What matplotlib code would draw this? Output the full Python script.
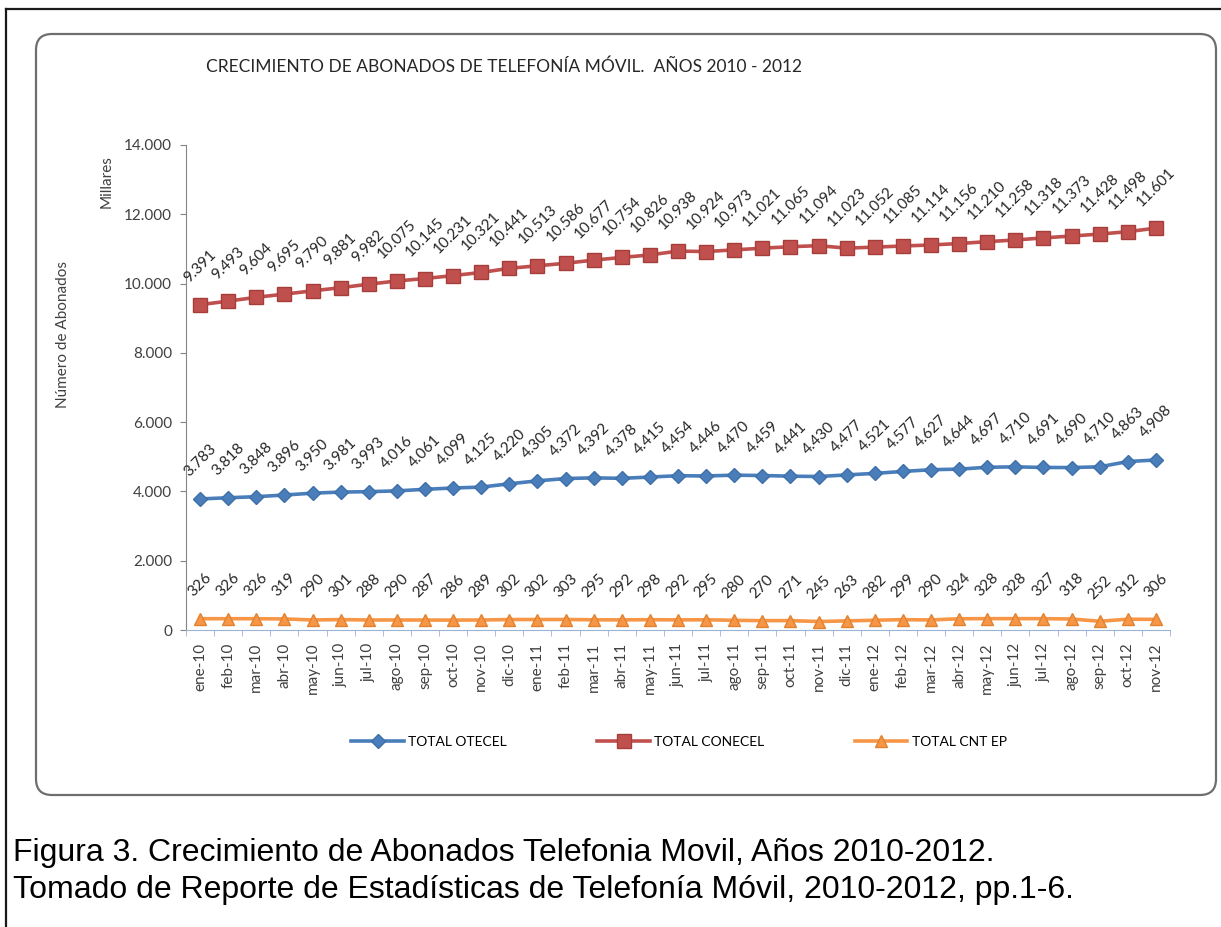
import numpy as np
import matplotlib
matplotlib.use('Agg')
import matplotlib.pyplot as plt
from matplotlib import font_manager
from matplotlib.lines import Line2D
from matplotlib.patches import FancyBboxPatch

# Monthly subscribers (thousands), ene-10 .. nov-12
meses = ['ene', 'feb', 'mar', 'abr', 'may', 'jun', 'jul', 'ago', 'sep', 'oct', 'nov', 'dic']
periodos = [f'{m}-{a}' for a in ('10', '11', '12') for m in meses][:35]

otecel = [3783, 3818, 3848, 3896, 3950, 3981, 3993, 4016, 4061, 4099, 4125, 4220,
          4305, 4372, 4392, 4378, 4415, 4454, 4446, 4470, 4459, 4441, 4430, 4477,
          4521, 4577, 4627, 4644, 4697, 4710, 4691, 4690, 4710, 4863, 4908]
conecel = [9391, 9493, 9604, 9695, 9790, 9881, 9982, 10075, 10145, 10231, 10321, 10441,
           10513, 10586, 10677, 10754, 10826, 10938, 10924, 10973, 11021, 11065, 11094, 11023,
           11052, 11085, 11114, 11156, 11210, 11258, 11318, 11373, 11428, 11498, 11601]
cnt_ep = [326, 326, 326, 319, 290, 301, 288, 290, 287, 286, 289, 302,
          302, 303, 295, 292, 298, 292, 295, 280, 270, 271, 245, 263,
          282, 299, 290, 324, 328, 328, 327, 318, 252, 312, 306]

y_ticks = [0, 2000, 4000, 6000, 8000, 10000, 12000, 14000]

W, H = 1221, 927

# chart text in a Calibri-like face, caption in an Arial-like one
installed = {f.name for f in font_manager.fontManager.ttflist}
chart_font = 'Lato' if 'Lato' in installed else 'DejaVu Sans'
caption_font = 'Liberation Sans' if 'Liberation Sans' in installed else 'DejaVu Sans'
plt.rcParams['font.family'] = [chart_font, 'DejaVu Sans']


def fx(px):
    return px / W


def fy(py):
    return 1 - py / H


def miles(v):
    return f'{v:,.0f}'.replace(',', '.')


fig = plt.figure(figsize=(W / 100, H / 100), dpi=100)
fig.patch.set_facecolor('white')

# page frame (top and left only) and the rounded chart box
fig.add_artist(Line2D([fx(6), 1], [fy(9), fy(9)], color='#1a1a1a', lw=1.6, transform=fig.transFigure))
fig.add_artist(Line2D([fx(6), fx(6)], [fy(9), 0], color='#1a1a1a', lw=1.6, transform=fig.transFigure))
box = FancyBboxPatch((36 / 100, (H - 795) / 100), (1216 - 36) / 100, (795 - 34) / 100,
                     boxstyle='round,pad=0,rounding_size=0.16', transform=fig.dpi_scale_trans,
                     fc='none', ec='#6e6e6e', lw=1.6)
fig.add_artist(box)

# plot area
ax = fig.add_axes([fx(186), fy(630), fx(1170) - fx(186), fy(145) - fy(630)])
x = np.arange(len(periodos))

series = [
    ('TOTAL OTECEL', otecel, '#4A7EBB', '#3F6FA8', 'D', 7.5),
    ('TOTAL CONECEL', conecel, '#C0504D', '#A53E3B', 's', 9.5),
    ('TOTAL CNT EP', cnt_ep, '#F79646', '#E0822F', '^', 9),
]
handles = []
for name, vals, col, edge, mk, ms in series:
    h, = ax.plot(x, vals, color=col, lw=2.6, marker=mk, markersize=ms,
                 markerfacecolor=col, markeredgecolor=edge, label=name)
    handles.append(h)
    # value labels sit above each point, rotated like the workbook's
    for i, v in enumerate(vals):
        ax.annotate(miles(v), (i, v), xytext=(0, 14), textcoords='offset points',
                    rotation=45, ha='center', va='bottom', fontsize=11, color='#262626')

ax.set_xlim(-0.5, len(periodos) - 0.5)
ax.set_ylim(0, 14000)
ax.set_yticks(y_ticks)
ax.set_yticklabels([miles(v) for v in y_ticks])
ax.set_xticks(x)
ax.set_xticklabels(periodos, rotation=90)
ax.set_xticks(np.arange(-0.5, len(periodos), 1), minor=True)
ax.tick_params(axis='x', which='major', length=0, pad=9, labelsize=11, colors='#404040')
ax.tick_params(axis='x', which='minor', length=4, color='#9BB3D4')
ax.tick_params(axis='y', length=4, color='#868686', labelsize=11, labelcolor='#404040', pad=6)

for side in ('top', 'right'):
    ax.spines[side].set_visible(False)
ax.spines['left'].set_color('#868686')
ax.spines['bottom'].set_color('#9BB3D4')

fig.text(fx(63), fy(335), 'Número de Abonados', rotation=90, ha='center', va='center',
         fontsize=11, color='#404040')
fig.text(fx(107), fy(182), 'Millares', rotation=90, ha='center', va='center',
         fontsize=11, color='#404040')
fig.text(fx(206), fy(67), 'CRECIMIENTO DE ABONADOS DE TELEFONÍA MÓVIL.  AÑOS 2010 - 2012',
         ha='left', va='center', fontsize=12.5, color='#262626')

fig.legend(handles=handles, loc='center', bbox_to_anchor=(fx(679), fy(742)), ncol=3,
           frameon=False, fontsize=10, handlelength=3.8, columnspacing=6.5, handletextpad=0.3)

# caption below the chart box
fig.text(fx(13), fy(853), 'Figura 3. Crecimiento de Abonados Telefonia Movil, Años 2010-2012.',
         ha='left', va='center', fontsize=23, family=caption_font, color='black')
fig.text(fx(13), fy(890), 'Tomado de Reporte de Estadísticas de Telefonía Móvil, 2010-2012, pp.1-6.',
         ha='left', va='center', fontsize=23, family=caption_font, color='black')

fig.savefig('out.png', dpi=100)
